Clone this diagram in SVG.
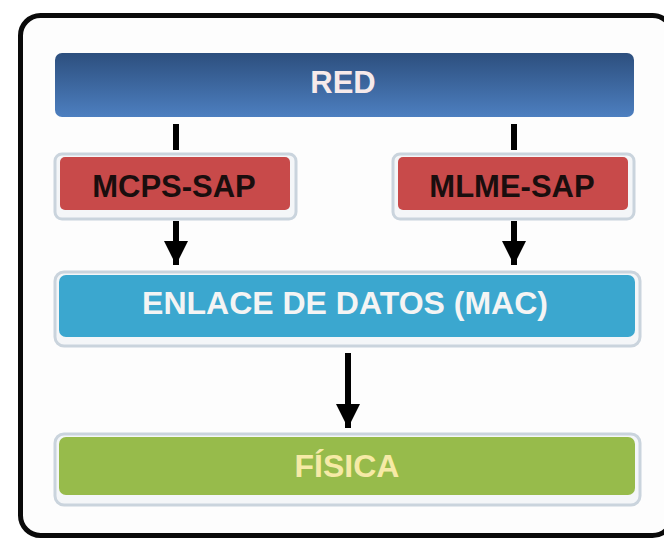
<svg xmlns="http://www.w3.org/2000/svg" width="664" height="538" viewBox="0 0 664 538">
  <defs>
    <linearGradient id="gRed" x1="0" y1="0" x2="0" y2="1">
      <stop offset="0" stop-color="#2d4f7e"/>
      <stop offset="1" stop-color="#4d7fc0"/>
    </linearGradient>
    <marker id="ah" viewBox="0 0 10 10" refX="10" refY="5" markerWidth="4" markerHeight="4" markerUnits="strokeWidth" orient="auto">
      <path d="M0,0 L10,5 L0,10 Z" fill="#000"/>
    </marker>
  </defs>
  <style>
    .shadow { fill: #f4f6f8; stroke: #cad4dd; stroke-width: 3; }
    .box { stroke: none; }
    .lbl { font-family: "Liberation Sans", Arial, sans-serif; font-weight: bold; text-anchor: middle; }
    .conn { stroke: #000; stroke-width: 6; fill: none; }
  </style>
  <rect x="0" y="0" width="664" height="538" fill="#ffffff"/>
  <rect id="frame" x="20.5" y="15.5" width="652" height="520" rx="20" fill="#fdfdfd" stroke="#0a0a0a" stroke-width="5"/>

  <g id="red">
    <rect x="55" y="53" width="579" height="64" rx="7" fill="url(#gRed)"/>
    <text class="lbl" x="343" y="93" font-size="31" fill="#f6eaea">RED</text>
  </g>

  <g id="mcps">
    <rect class="shadow" x="55" y="154" width="241" height="65" rx="7"/>
    <rect class="box" x="60" y="157" width="230" height="53" rx="5" fill="#c84a4a"/>
    <text class="lbl" x="174" y="197" font-size="31" fill="#1a0e0e">MCPS-SAP</text>
  </g>

  <g id="mlme">
    <rect class="shadow" x="393" y="154" width="241" height="65" rx="7"/>
    <rect class="box" x="398" y="157" width="230" height="53" rx="5" fill="#c84a4a"/>
    <text class="lbl" x="512" y="197" font-size="31" fill="#1a0e0e">MLME-SAP</text>
  </g>

  <g id="mac">
    <rect class="shadow" x="55" y="272" width="585" height="74" rx="9"/>
    <rect class="box" x="59" y="275" width="576" height="62" rx="7" fill="#3ba7cf"/>
    <text class="lbl" x="345" y="314" font-size="32" fill="#f4f4f4">ENLACE DE DATOS (MAC)</text>
  </g>

  <g id="fisica">
    <rect class="shadow" x="55" y="434" width="585" height="71" rx="9"/>
    <rect class="box" x="59" y="437" width="576" height="58" rx="7" fill="#97bb4b"/>
    <text class="lbl" x="347" y="477" font-size="32" fill="#f6eaa6">FÍSICA</text>
  </g>

  <g id="connectors">
    <line class="conn" x1="176" y1="124" x2="176" y2="150"/>
    <line class="conn" x1="514" y1="124" x2="514" y2="150"/>
    <line class="conn" x1="176" y1="221" x2="176" y2="265" marker-end="url(#ah)"/>
    <line class="conn" x1="514" y1="221" x2="514" y2="265" marker-end="url(#ah)"/>
    <line class="conn" x1="348" y1="353" x2="348" y2="428" marker-end="url(#ah)"/>
  </g>
</svg>
